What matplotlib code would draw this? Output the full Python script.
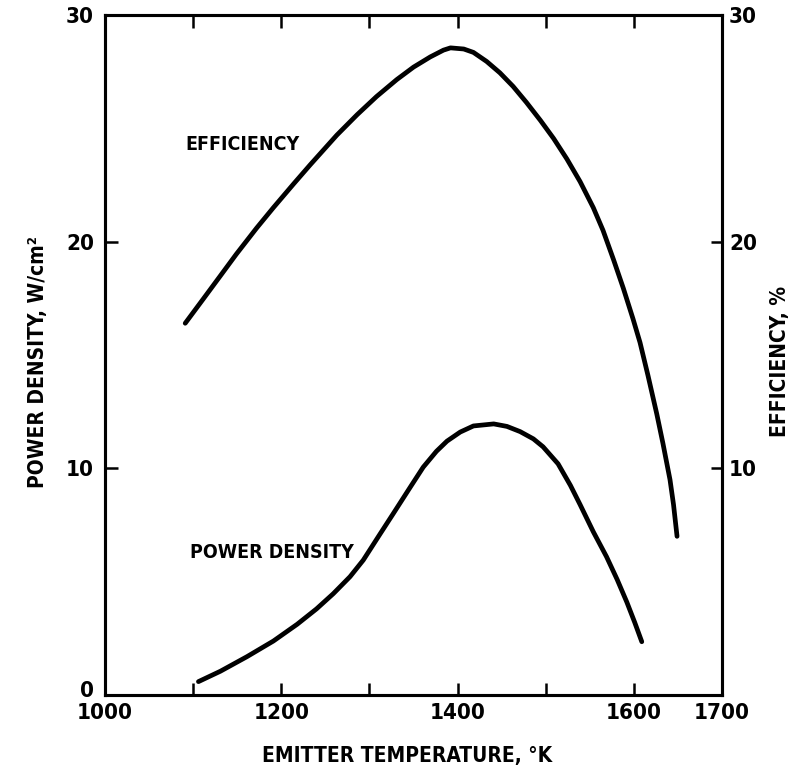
import matplotlib
matplotlib.use('Agg')
import matplotlib.pyplot as plt
import matplotlib.transforms as mtransforms
from matplotlib import font_manager

# Efficiency curve (right axis, %)
temp_eff = [1091, 1112, 1131, 1149, 1172, 1191, 1214, 1233, 1263, 1286,
            1308, 1331, 1350, 1369, 1384, 1392, 1407, 1418, 1433, 1448,
            1463, 1478, 1494, 1509, 1524, 1539, 1554, 1565, 1577, 1588,
            1599, 1607, 1616, 1626, 1633, 1641, 1645, 1649]
efficiency = [16.4, 17.5, 18.5, 19.45, 20.6, 21.5, 22.55, 23.4, 24.7, 25.6,
              26.4, 27.15, 27.7, 28.15, 28.45, 28.55, 28.5, 28.35, 27.95, 27.45,
              26.85, 26.15, 25.35, 24.55, 23.65, 22.65, 21.5, 20.5, 19.2, 17.95,
              16.6, 15.55, 14.1, 12.4, 11.1, 9.5, 8.4, 7.0]

# Power density curve (left axis, W/cm^2)
temp_pd = [1106, 1131, 1161, 1191, 1218, 1240, 1259, 1278, 1293, 1312,
           1327, 1346, 1361, 1376, 1388, 1403, 1418, 1441, 1456, 1471,
           1486, 1497, 1514, 1528, 1539, 1554, 1569, 1581, 1592, 1601, 1609]
power_density = [0.59, 1.05, 1.69, 2.38, 3.12, 3.80, 4.47, 5.22, 5.95, 7.1,
                 8.0, 9.15, 10.05, 10.75, 11.2, 11.6, 11.87, 11.96, 11.85, 11.62,
                 11.3, 10.95, 10.2, 9.25, 8.4, 7.2, 6.1, 5.1, 4.1, 3.2, 2.35]

x_ticks = [1000, 1100, 1200, 1300, 1400, 1500, 1600, 1700]
x_tick_labels = ['1000', '', '1200', '', '1400', '', '1600', '1700']
left_ticks = [0, 10, 20, 30]
right_ticks = [10, 20, 30]

# narrow bold font, like the typewriter-era original
names = {f.name for f in font_manager.fontManager.ttflist}
if 'Liberation Sans Narrow' in names:
    font = dict(family='Liberation Sans Narrow', weight='bold')
    fs = 17
else:
    font = dict(family='DejaVu Sans', stretch='condensed', weight='bold')
    fs = 15

fig = plt.figure(figsize=(7.95, 7.74), dpi=100)
ax = fig.add_axes([105 / 795, 1 - 695 / 774, 617 / 795, 680 / 774])
ax2 = ax.twinx()

ax.plot(temp_pd, power_density, color='black', linewidth=3.4,
        solid_capstyle='round', solid_joinstyle='round')
ax2.plot(temp_eff, efficiency, color='black', linewidth=3.4,
         solid_capstyle='round', solid_joinstyle='round')

for a in (ax, ax2):
    a.set_xlim(1000, 1700)
    a.set_ylim(0, 30)
    for s in a.spines.values():
        s.set_linewidth(2.2)

ax.set_xticks(x_ticks)
ax.set_xticklabels(x_tick_labels, **font, fontsize=fs + 1)
ax.set_yticks(left_ticks)
ax.set_yticklabels([str(t) for t in left_ticks], **font, fontsize=fs + 1)
ax.tick_params(axis='x', direction='in', length=9, width=1.8, top=True, pad=6)
ax.tick_params(axis='y', direction='in', length=9, width=1.8, pad=8)

# lift the "0" a little so it clears the "1000" below it
zero = ax.get_yticklabels()[0]
zero.set_transform(zero.get_transform() +
                   mtransforms.ScaledTranslation(0, 4 / 72, fig.dpi_scale_trans))

ax2.set_yticks(right_ticks)
ax2.set_yticklabels([str(t) for t in right_ticks], **font, fontsize=fs + 1)
ax2.tick_params(axis='y', direction='in', length=8, width=1.8, pad=5)

ax.set_xlabel('EMITTER TEMPERATURE, °K', **font, fontsize=fs)
ax.xaxis.set_label_coords(0.49, -0.075)
ax.set_ylabel('POWER DENSITY, W/cm²', **font, fontsize=fs)
ax.yaxis.set_label_coords(-0.092, 0.49)
ax2.set_ylabel('EFFICIENCY, %', **font, fontsize=fs, rotation=90)
ax2.yaxis.set_label_coords(1.078, 0.49)

# curve labels inside the plot
ax.text(1091, 24.3, 'EFFICIENCY', ha='left', va='center', **font, fontsize=fs - 1)
ax.text(1096, 6.3, 'POWER DENSITY', ha='left', va='center', **font, fontsize=fs - 1)

fig.savefig('out.png', dpi=100)
